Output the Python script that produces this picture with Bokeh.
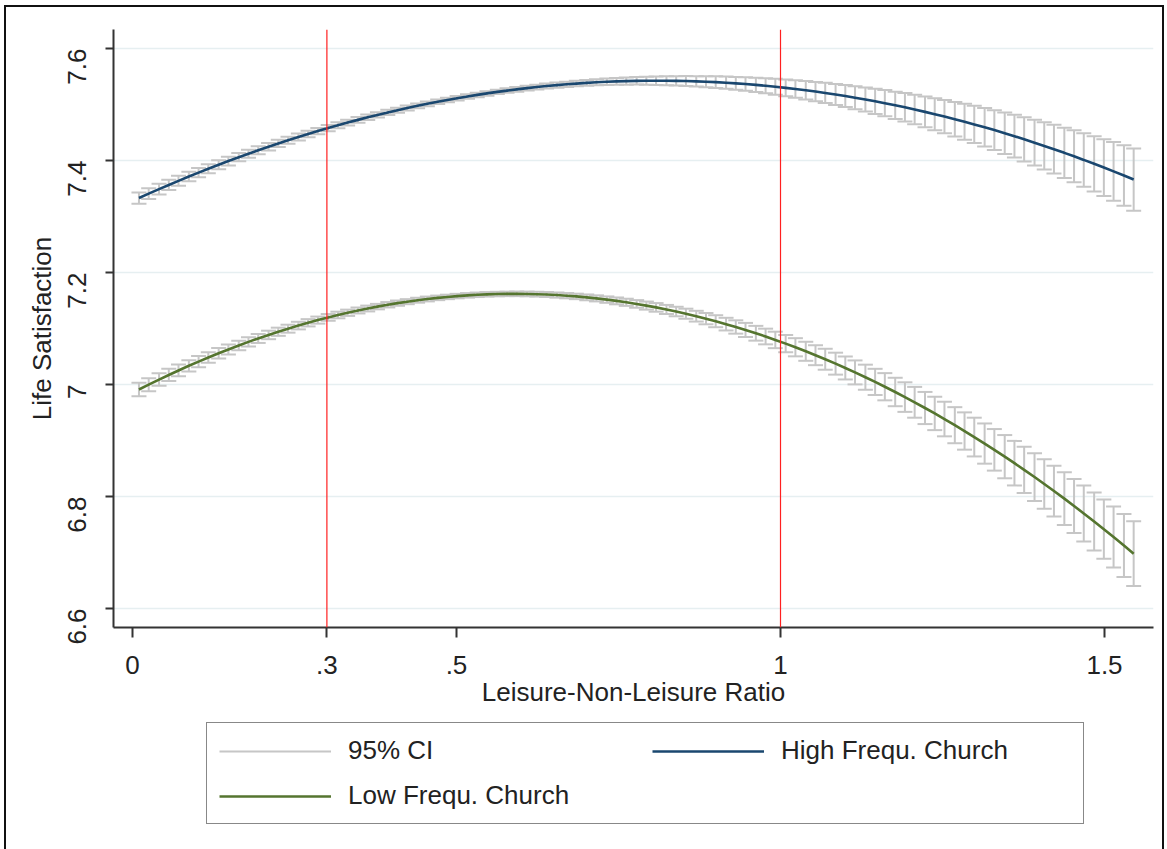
import math
from bokeh.plotting import figure
from bokeh.layouts import column
from bokeh.models import (ColumnDataSource, Range1d, FixedTicker, Span, Legend,
                          LegendItem)
from bokeh.embed import file_html
from bokeh.resources import INLINE

# ---------------- data ----------------
ratio = [0.010, 0.025, 0.041, 0.056, 0.071, 0.087, 0.102, 0.117, 0.133, 0.148,
         0.164, 0.179, 0.194, 0.210, 0.225, 0.240, 0.256, 0.271, 0.286, 0.302,
         0.317, 0.332, 0.348, 0.363, 0.378, 0.394, 0.409, 0.424, 0.440, 0.455,
         0.471, 0.486, 0.501, 0.517, 0.532, 0.547, 0.563, 0.578, 0.593, 0.609,
         0.624, 0.639, 0.655, 0.670, 0.685, 0.701, 0.716, 0.732, 0.747, 0.762,
         0.778, 0.793, 0.808, 0.824, 0.839, 0.854, 0.870, 0.885, 0.900, 0.916,
         0.931, 0.946, 0.962, 0.977, 0.992, 1.008, 1.023, 1.039, 1.054, 1.069,
         1.085, 1.100, 1.115, 1.131, 1.146, 1.161, 1.177, 1.192, 1.207, 1.223,
         1.238, 1.253, 1.269, 1.284, 1.299, 1.315, 1.330, 1.346, 1.361, 1.376,
         1.392, 1.407, 1.422, 1.438, 1.453, 1.468, 1.484, 1.499, 1.514, 1.530,
         1.545]

high_mean = [7.3330, 7.3408, 7.3489, 7.3564, 7.3637, 7.3714, 7.3784, 7.3853, 7.3925, 7.3990,
             7.4059, 7.4122, 7.4183, 7.4247, 7.4305, 7.4361, 7.4420, 7.4474, 7.4526, 7.4580,
             7.4629, 7.4677, 7.4726, 7.4771, 7.4814, 7.4859, 7.4899, 7.4938, 7.4977, 7.5013,
             7.5049, 7.5082, 7.5113, 7.5144, 7.5172, 7.5199, 7.5226, 7.5249, 7.5271, 7.5293,
             7.5312, 7.5330, 7.5347, 7.5361, 7.5374, 7.5387, 7.5397, 7.5406, 7.5413, 7.5418,
             7.5423, 7.5425, 7.5426, 7.5425, 7.5423, 7.5420, 7.5414, 7.5408, 7.5400, 7.5390,
             7.5378, 7.5366, 7.5351, 7.5335, 7.5318, 7.5298, 7.5278, 7.5255, 7.5232, 7.5207,
             7.5179, 7.5152, 7.5122, 7.5090, 7.5057, 7.5024, 7.4986, 7.4950, 7.4911, 7.4869,
             7.4828, 7.4785, 7.4738, 7.4692, 7.4645, 7.4593, 7.4543, 7.4487, 7.4434, 7.4379,
             7.4319, 7.4261, 7.4202, 7.4137, 7.4075, 7.4011, 7.3941, 7.3874, 7.3806, 7.3732,
             7.3660]

high_ci = [0.0100, 0.0097, 0.0094, 0.0092, 0.0089, 0.0086, 0.0084, 0.0081, 0.0079, 0.0077,
           0.0074, 0.0072, 0.0070, 0.0067, 0.0065, 0.0063, 0.0061, 0.0059, 0.0057, 0.0055,
           0.0054, 0.0052, 0.0050, 0.0049, 0.0047, 0.0046, 0.0045, 0.0044, 0.0043, 0.0042,
           0.0041, 0.0040, 0.0040, 0.0040, 0.0040, 0.0040, 0.0040, 0.0040, 0.0041, 0.0042,
           0.0043, 0.0044, 0.0046, 0.0047, 0.0049, 0.0052, 0.0054, 0.0057, 0.0060, 0.0063,
           0.0067, 0.0071, 0.0075, 0.0079, 0.0083, 0.0088, 0.0093, 0.0098, 0.0104, 0.0110,
           0.0115, 0.0122, 0.0128, 0.0135, 0.0142, 0.0149, 0.0156, 0.0164, 0.0172, 0.0180,
           0.0189, 0.0197, 0.0206, 0.0216, 0.0225, 0.0234, 0.0244, 0.0254, 0.0264, 0.0276,
           0.0286, 0.0297, 0.0309, 0.0320, 0.0332, 0.0344, 0.0356, 0.0370, 0.0382, 0.0395,
           0.0409, 0.0422, 0.0435, 0.0450, 0.0464, 0.0478, 0.0494, 0.0508, 0.0523, 0.0539,
           0.0555]

low_mean = [6.9910, 6.9997, 7.0088, 7.0170, 7.0250, 7.0334, 7.0409, 7.0482, 7.0558, 7.0626,
            7.0697, 7.0761, 7.0822, 7.0885, 7.0942, 7.0997, 7.1052, 7.1102, 7.1150, 7.1198,
            7.1241, 7.1281, 7.1322, 7.1357, 7.1391, 7.1424, 7.1453, 7.1479, 7.1505, 7.1527,
            7.1547, 7.1564, 7.1579, 7.1592, 7.1602, 7.1610, 7.1615, 7.1618, 7.1619, 7.1617,
            7.1613, 7.1607, 7.1597, 7.1586, 7.1573, 7.1556, 7.1538, 7.1516, 7.1493, 7.1468,
            7.1439, 7.1409, 7.1377, 7.1340, 7.1303, 7.1264, 7.1220, 7.1176, 7.1130, 7.1078,
            7.1027, 7.0974, 7.0915, 7.0857, 7.0796, 7.0730, 7.0665, 7.0593, 7.0523, 7.0451,
            7.0372, 7.0295, 7.0216, 7.0130, 7.0046, 6.9960, 6.9866, 6.9775, 6.9682, 6.9580,
            6.9483, 6.9383, 6.9273, 6.9169, 6.9061, 6.8945, 6.8833, 6.8711, 6.8595, 6.8476,
            6.8347, 6.8223, 6.8097, 6.7961, 6.7830, 6.7697, 6.7553, 6.7416, 6.7276, 6.7124,
            6.6979]

low_ci = [0.0120, 0.0116, 0.0112, 0.0109, 0.0105, 0.0101, 0.0099, 0.0095, 0.0092, 0.0089,
          0.0085, 0.0083, 0.0080, 0.0076, 0.0073, 0.0071, 0.0068, 0.0065, 0.0063, 0.0060,
          0.0059, 0.0056, 0.0053, 0.0052, 0.0049, 0.0048, 0.0047, 0.0045, 0.0044, 0.0043,
          0.0041, 0.0040, 0.0040, 0.0040, 0.0040, 0.0040, 0.0040, 0.0040, 0.0041, 0.0042,
          0.0043, 0.0044, 0.0046, 0.0047, 0.0049, 0.0052, 0.0054, 0.0057, 0.0061, 0.0064,
          0.0068, 0.0072, 0.0077, 0.0081, 0.0085, 0.0090, 0.0096, 0.0101, 0.0107, 0.0113,
          0.0119, 0.0126, 0.0132, 0.0140, 0.0147, 0.0154, 0.0162, 0.0170, 0.0178, 0.0187,
          0.0196, 0.0205, 0.0214, 0.0224, 0.0234, 0.0243, 0.0254, 0.0264, 0.0275, 0.0287,
          0.0298, 0.0309, 0.0322, 0.0333, 0.0346, 0.0359, 0.0371, 0.0386, 0.0398, 0.0412,
          0.0427, 0.0440, 0.0454, 0.0470, 0.0484, 0.0499, 0.0516, 0.0530, 0.0546, 0.0563,
          0.0580]

x_ticks = [0, 0.3, 0.5, 1, 1.5]
x_tick_labels = ["0", ".3", ".5", "1", "1.5"]
y_ticks = [6.6, 6.8, 7.0, 7.2, 7.4, 7.6]
y_tick_labels = ["6.6", "6.8", "7", "7.2", "7.4", "7.6"]
ref_lines = [0.3, 1.0]
series_names = ["High Frequ. Church", "Low Frequ. Church"]
ci_name = "95% CI"

# ---------------- styling ----------------
FONT = "Liberation Sans"
TXT = "#222222"
BLUE = "#1a476f"
GREEN = "#55752f"
GREY = "#c6c6c6"

p = figure(width=1167, height=719, output_backend="svg", toolbar_location=None,
           x_range=Range1d(-0.0293, 1.5756), y_range=Range1d(6.566, 7.634),
           min_border_left=113, min_border_right=14, min_border_top=29,
           min_border_bottom=92)
p.outline_line_color = None
p.background_fill_color = "white"
p.border_fill_alpha = 0

def err_source(m, c):
    lo = [a - b for a, b in zip(m, c)]
    hi = [a + b for a, b in zip(m, c)]
    return ColumnDataSource(dict(x=ratio, m=m, lo=lo, hi=hi))

src_hi = err_source(high_mean, high_ci)
src_lo = err_source(low_mean, low_ci)

for src in (src_hi, src_lo):
    p.segment(x0="x", y0="lo", x1="x", y1="hi", source=src,
              line_color=GREY, line_width=2)
    p.scatter(x="x", y="lo", source=src, marker="dash", size=15,
              line_color=GREY, line_width=2)
    p.scatter(x="x", y="hi", source=src, marker="dash", size=15,
              line_color=GREY, line_width=2)

p.line(x="x", y="m", source=src_hi, line_color=BLUE, line_width=2.6)
p.line(x="x", y="m", source=src_lo, line_color=GREEN, line_width=2.6)

for xv in ref_lines:
    p.add_layout(Span(location=xv, dimension="height", line_color="#ff2020",
                      line_width=1.2))

# axes
p.xaxis.ticker = FixedTicker(ticks=x_ticks)
p.xaxis.major_label_overrides = {t: l for t, l in zip(x_ticks, x_tick_labels)}
p.yaxis.ticker = FixedTicker(ticks=y_ticks)
p.yaxis.major_label_overrides = {t: l for t, l in zip(y_ticks, y_tick_labels)}
p.xaxis.axis_label = "Leisure-Non-Leisure Ratio"
p.yaxis.axis_label = "Life Satisfaction"
p.yaxis.major_label_orientation = math.pi / 2
for ax in (p.xaxis, p.yaxis):
    ax.axis_line_color = "#333333"
    ax.axis_line_width = 2
    ax.major_tick_line_color = "#333333"
    ax.major_tick_line_width = 2
    ax.major_tick_in = 0
    ax.minor_tick_line_color = None
    ax.major_label_text_font = FONT
    ax.major_label_text_font_size = "26px"
    ax.major_label_text_color = TXT
    ax.axis_label_text_font = FONT
    ax.axis_label_text_font_size = "26px"
    ax.axis_label_text_font_style = "normal"
    ax.axis_label_text_color = TXT
p.xaxis.major_tick_out = 10
p.yaxis.major_tick_out = 8
p.xaxis.major_label_standoff = 18
p.yaxis.major_label_standoff = 28
p.xaxis.axis_label_standoff = 0
p.yaxis.axis_label_standoff = 0

p.xgrid.grid_line_color = None
p.ygrid.ticker = FixedTicker(ticks=y_ticks)
p.ygrid.grid_line_color = "#e6eff1"
p.ygrid.grid_line_width = 1.5

# ---------------- legend panel ----------------
# same series drawn again, but outside this panel's visible range: only the
# legend keys of this panel show
leg = figure(width=1167, height=130, output_backend="svg", toolbar_location=None,
             x_range=Range1d(0, 1), y_range=Range1d(0, 1), min_border=0)
leg.axis.visible = False
leg.grid.visible = False
leg.outline_line_color = None
leg.background_fill_alpha = 0
leg.border_fill_alpha = 0

k_ci = leg.segment(x0="x", y0="lo", x1="x", y1="hi", source=src_hi,
                   line_color=GREY, line_width=2)
k_hi = leg.line(x="x", y="m", source=src_hi, line_color=BLUE, line_width=2.6)
k_lo = leg.line(x="x", y="m", source=src_lo, line_color=GREEN, line_width=2.6)

legend = Legend(items=[
    LegendItem(label=ci_name, renderers=[k_ci]),
    LegendItem(label=series_names[0], renderers=[k_hi]),
    LegendItem(label=series_names[1], renderers=[k_lo]),
], location=(93, 25), orientation="horizontal", ncols=2)
legend.border_line_color = "#111111"
legend.border_line_width = 1.5
legend.background_fill_color = "white"
legend.background_fill_alpha = 1
legend.label_text_font = FONT
legend.label_text_font_size = "26px"
legend.label_text_color = TXT
legend.glyph_width = 112
legend.glyph_height = 30
legend.label_height = 30
legend.label_standoff = 17
legend.label_width = 290
legend.spacing = 14
legend.padding = 12
legend.margin = 0
leg.add_layout(legend, "center")

page = column(p, leg, spacing=0, styles={
    "box-shadow": ("inset 4px 0 0 0 white, inset 0 5px 0 0 white, "
                   "inset -3px 0 0 0 white, inset 6px 0 0 0 #111111, "
                   "inset 0 7px 0 0 #111111, inset -5px 0 0 0 #111111"),
})

open("out.html", "w").write(file_html(page, INLINE))
